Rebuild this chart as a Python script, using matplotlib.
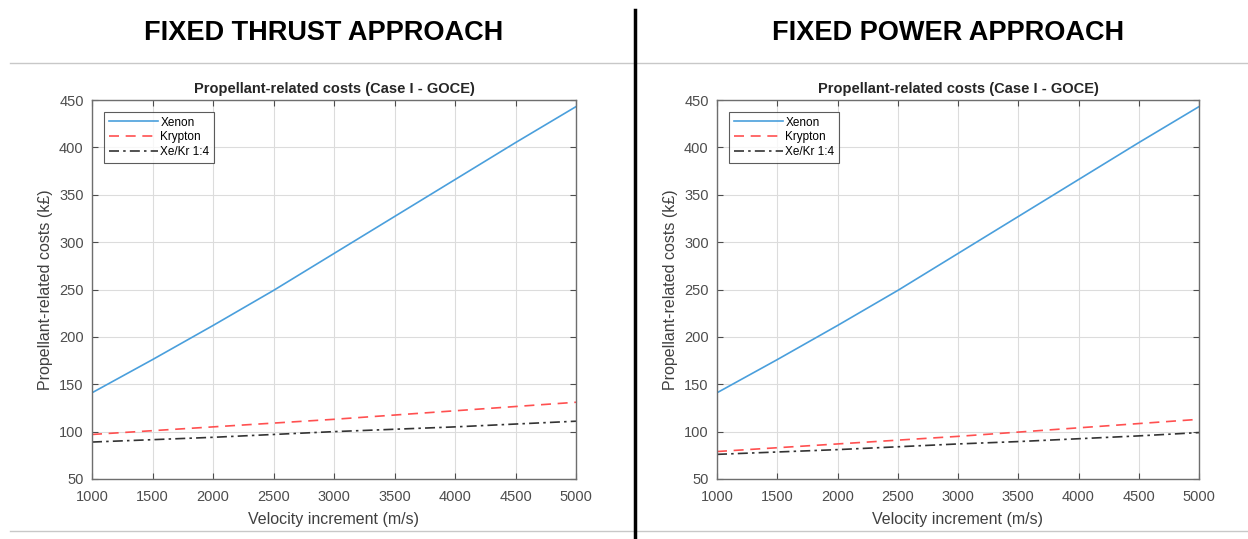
import numpy as np
import matplotlib.pyplot as plt
from matplotlib.lines import Line2D

# velocity increment (m/s)
delta_v = [1000, 1500, 2000, 2500, 3000, 3500, 4000, 4500, 5000]

# propellant-related costs (k£), fixed thrust approach
thrust_xenon = [141, 176, 212, 249, 288, 327, 366, 405, 443]
thrust_krypton = [97, 101, 105, 109, 113, 117.5, 122, 126.5, 131]
thrust_mix = [89, 91.5, 94, 97, 100, 102.5, 105, 108, 111]

# propellant-related costs (k£), fixed power approach
power_xenon = [141, 176, 212, 249, 288, 327, 366, 405, 443]
power_krypton = [79, 83, 87, 91, 95, 99.5, 104, 108.5, 113]
power_mix = [76, 78.5, 81, 84, 87, 89.5, 92.5, 95.5, 99]

panel_titles = ['FIXED THRUST APPROACH', 'FIXED POWER APPROACH']
series_names = ['Xenon', 'Krypton', 'Xe/Kr 1:4']

plt.rcParams['font.family'] = ['Liberation Sans', 'DejaVu Sans']

W, H = 1248, 539
fig = plt.figure(figsize=(W / 100, H / 100), dpi=100)

# separators
fig.add_artist(Line2D([10 / W, 1], [1 - 63 / H] * 2, color='#c8c8c8', lw=1))
fig.add_artist(Line2D([10 / W, 1], [1 - 531 / H] * 2, color='#c8c8c8', lw=1))
fig.add_artist(Line2D([635 / W] * 2, [0, 1 - 10 / H], color='black', lw=2.5))

axes_px = [(92, 576), (717, 1199)]
top, bottom = 100, 479
data = [(thrust_xenon, thrust_krypton, thrust_mix),
        (power_xenon, power_krypton, power_mix)]

for (x0, x1), title, (xe, kr, mix) in zip(axes_px, panel_titles, data):
    ax = fig.add_axes([x0 / W, 1 - bottom / H, (x1 - x0) / W, (bottom - top) / H])
    ax.plot(delta_v, xe, color='#4a9fdc', lw=1.2, label=series_names[0])
    ax.plot(delta_v, kr, color='#ff5050', lw=1.2, ls=(0, (6, 4)), label=series_names[1])
    ax.plot(delta_v, mix, color='#333333', lw=1.2, ls=(0, (6, 2.5, 1.5, 2.5)), label=series_names[2])

    ax.set_xlim(1000, 5000)
    ax.set_ylim(50, 450)
    ax.set_xticks(np.arange(1000, 5001, 500))
    ax.set_yticks(np.arange(50, 451, 50))
    ax.grid(True, color='#dcdcdc', lw=0.8)
    ax.tick_params(direction='in', top=True, right=True, length=4,
                   labelsize=10.5, colors='#4d4d4d')
    ax.tick_params(axis='x', pad=8)
    ax.tick_params(axis='y', pad=6)
    for s in ax.spines.values():
        s.set_color('#6e6e6e')
        s.set_linewidth(1.0)

    ax.set_title('Propellant-related costs (Case I - GOCE)', fontsize=10.5,
                 fontweight='bold', color='#262626', pad=5)
    ax.set_xlabel('Velocity increment (m/s)', fontsize=11.5, color='#404040', labelpad=6)
    ax.set_ylabel('Propellant-related costs (k£)', fontsize=11.5, color='#404040', labelpad=4)

    leg = ax.legend(loc='upper left', fontsize=8.5, frameon=True, fancybox=False,
                    edgecolor='#333333', handlelength=4.2, borderaxespad=1.0,
                    labelspacing=0.25, handletextpad=0.2, borderpad=0.4)
    leg.get_frame().set_linewidth(0.8)

    fig.text((x0 + x1) / 2 / W - 10 / W, 1 - 33 / H, title, ha='center', va='center',
             fontsize=19.5, fontweight='bold', color='black')

fig.savefig('out.png', dpi=100, facecolor='white')
